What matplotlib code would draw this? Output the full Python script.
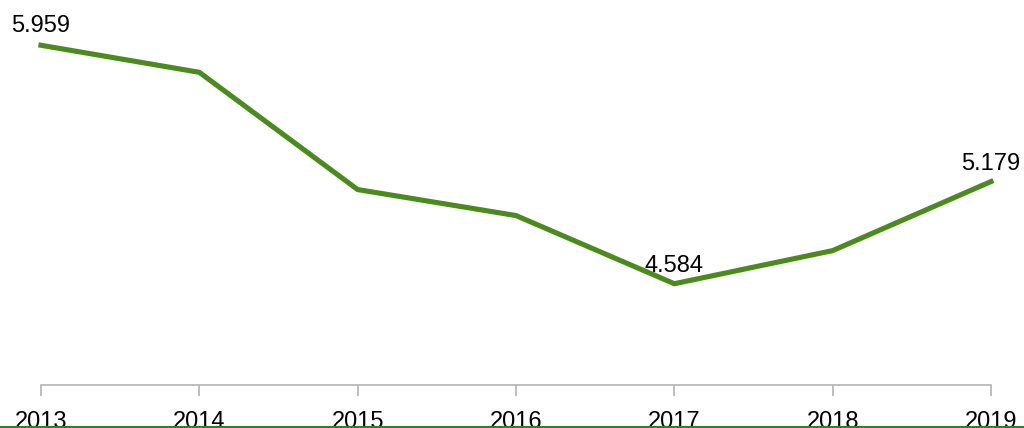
import matplotlib
matplotlib.use("Agg")
import matplotlib.pyplot as plt
from matplotlib.lines import Line2D

years = [2013, 2014, 2015, 2016, 2017, 2018, 2019]
values = [5.959, 5.803, 5.127, 4.977, 4.584, 4.775, 5.173]
labelled = {2013: "5.959", 2017: "4.584", 2019: "5.179"}

plt.rcParams["font.family"] = ["Liberation Sans", "DejaVu Sans"]

fig = plt.figure(figsize=(10.24, 4.28), dpi=100)
# axes: x from 41px to 991px, y from top 0 to 385px
ax = fig.add_axes([41 / 1024, (428 - 385) / 428, 950 / 1024, 385 / 428])
ax.plot(years, values, color="#4b8b1d", linewidth=3.7, solid_joinstyle="miter", clip_on=False)

ax.set_xlim(2013, 2019)
ax.set_ylim(4.0, 6.22)

for sp in ["top", "left", "right"]:
    ax.spines[sp].set_visible(False)
ax.spines["bottom"].set_color("#b3b3b3")
ax.spines["bottom"].set_linewidth(1.2)
ax.set_yticks([])
ax.set_xticks(years)
ax.set_xticklabels([str(y) for y in years])
ax.tick_params(axis="x", length=8, width=1.2, color="#b3b3b3", labelsize=17, pad=10.5)

offsets = {2013: (0, 6), 2017: (0, 5), 2019: (0, 5)}
for yr, v in zip(years, values):
    if yr in labelled:
        ax.annotate(labelled[yr], (yr, v), xytext=offsets[yr], textcoords="offset points",
                    ha="center", va="bottom", fontsize=17, color="black", annotation_clip=False)

# green rule along the bottom edge
fig.add_artist(Line2D([0, 1], [1.5 / 428, 1.5 / 428], transform=fig.transFigure,
                      color="#1f8a1f", linewidth=2.2))

fig.savefig("out.png", dpi=100)
